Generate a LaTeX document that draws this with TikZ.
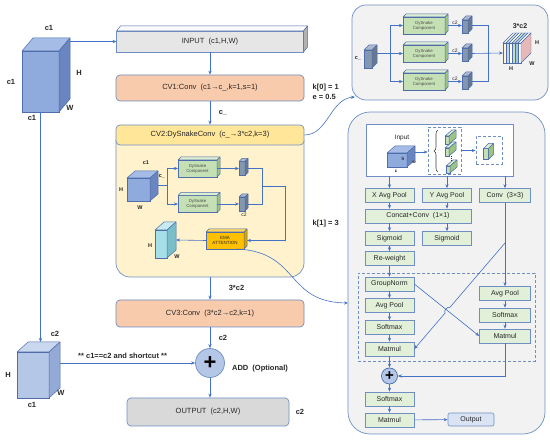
\documentclass[tikz,border=0pt]{standalone}
\usepackage{fontspec}
\setmainfont{Liberation Sans}
\usetikzlibrary{arrows.meta,calc,positioning,decorations.pathreplacing}

\definecolor{linecol}{HTML}{4472C4}
\definecolor{edgecol}{HTML}{6F8FC4}
\definecolor{cubeedge}{HTML}{4F6DAA}
\definecolor{cubefront}{HTML}{8FAADC}
\definecolor{cubeside}{HTML}{6A86C0}
\definecolor{cubetop}{HTML}{A4BCE6}
\definecolor{lowfront}{HTML}{B4C7E7}
\definecolor{lowside}{HTML}{93AAD6}
\definecolor{lowtop}{HTML}{C9D7EF}
\definecolor{mapfront}{HTML}{8497B0}
\definecolor{mapside}{HTML}{66788F}
\definecolor{maptop}{HTML}{ADB9CA}
\definecolor{tealfront}{HTML}{A6DFE8}
\definecolor{tealside}{HTML}{78BFC9}
\definecolor{tealtop}{HTML}{C6ECF1}
\definecolor{snakegreen}{HTML}{C5E0B4}
\definecolor{snakeside}{HTML}{9CC583}
\definecolor{snaketop}{HTML}{DDEED3}
\definecolor{boxgreen}{HTML}{E2F0D9}
\definecolor{emagold}{HTML}{FFC000}
\definecolor{emaside}{HTML}{D9A300}
\definecolor{ematop}{HTML}{FFD966}
\definecolor{convorange}{HTML}{F8CBAD}
\definecolor{headyellow}{HTML}{FFE699}
\definecolor{bodyyellow}{HTML}{FFF2CC}
\definecolor{inputgray}{HTML}{E7E6E6}
\definecolor{outgray}{HTML}{D9D9D9}
\definecolor{panelgray}{HTML}{F2F2F2}
\definecolor{outblue}{HTML}{DAE3F3}
\definecolor{addblue}{HTML}{B4C7E7}
\definecolor{slicecream}{HTML}{FFF2CC}
\definecolor{sliceblue}{HTML}{BDD7EE}
\definecolor{slicegreen}{HTML}{C5E0B4}
\definecolor{slicedeep}{HTML}{9DC3E6}
\definecolor{slicepink}{HTML}{E6B9B8}
\definecolor{txt}{HTML}{262626}

% top and right faces of a box whose front face is node #1
\newcommand{\extrude}[5]{%
  \filldraw[fill=#4, draw=cubeedge, line width=0.5pt, line join=round]
    (#1.north west) -- ++(#2,-#3) -- ($(#1.north east)+(#2,-#3)$) -- (#1.north east) -- cycle;
  \filldraw[fill=#5, draw=cubeedge, line width=0.5pt, line join=round]
    (#1.north east) -- ++(#2,-#3) -- ($(#1.south east)+(#2,-#3)$) -- (#1.south east) -- cycle;
}

\begin{document}
\begin{tikzpicture}[x=1pt, y=-1pt,
    >={Stealth[length=4pt,width=3.2pt]},
    line/.style={draw=linecol, line width=0.6pt, ->},
    wire/.style={draw=linecol, line width=0.6pt},
    mainbox/.style={rectangle, rounded corners=4pt, draw=edgecol, line width=0.7pt, minimum width=188pt, inner sep=0pt, text=txt, font=\fontsize{7.5}{9}\selectfont},
    cubeface/.style={rectangle, draw=cubeedge, line width=0.5pt, inner sep=0pt, outer sep=0pt},
    lbl/.style={inner sep=0.5pt, text=txt, font=\fontsize{7.5}{9}\selectfont\bfseries},
    slbl/.style={inner sep=0.5pt, text=txt, font=\fontsize{5.5}{6}\selectfont\bfseries},
    tlbl/.style={inner sep=0.5pt, text=txt, font=\fontsize{5}{6}\selectfont},
    dsbox/.style={cubeface, fill=snakegreen, minimum width=39pt, minimum height=17pt, align=center, text=black!70, font=\fontsize{4.3}{5}\selectfont},
    ebox/.style={rectangle, draw=edgecol, fill=boxgreen, line width=0.6pt, minimum width=49pt, minimum height=14pt, inner sep=0pt, text=txt, font=\fontsize{7}{8}\selectfont},
    panel/.style={rectangle, draw=edgecol, fill=panelgray, line width=0.7pt, inner sep=0pt},
    selbox/.style={rectangle, draw=edgecol, dash pattern=on 3pt off 2pt, line width=0.6pt, inner sep=0pt}
  ]
\useasboundingbox (0,0) rectangle (550,441);

% frames
\node[panel, rounded corners=14pt, minimum width=196pt, minimum height=95pt] (snakepanel) at (450,52.5) {};
\node[panel, rounded corners=22pt, minimum width=197pt, minimum height=322pt] (emapanel) at (446.5,273) {};
\node[minimum width=188pt, minimum height=137pt, inner sep=0pt, outer sep=0pt] (cv2body) at (210,208.5) {};
\filldraw[fill=bodyyellow, draw=edgecol, line width=0.7pt, rounded corners=14pt]
  (cv2body.north west) -- (cv2body.south west) -- (cv2body.south east) -- (cv2body.north east);

% main column
\node[cubeface, draw=edgecol, fill=inputgray, minimum width=187pt, minimum height=21pt, text=txt, font=\fontsize{7.5}{9}\selectfont] (input) at (210,41.5) {INPUT\ \ (c1,H,W)};
\extrude{input}{4}{5}{white!96!gray}{gray!60}
\node[mainbox, fill=convorange, minimum height=26pt] (cv1) at (210,88) {CV1:Conv\ \ (c1→c\_,k=1,s=1)};
\node[mainbox, fill=headyellow, minimum height=20pt] (cv2) at (210,135) {CV2:DySnakeConv\ \ (c\_→3*c2,k=3)};
\node[mainbox, fill=convorange, minimum height=27pt] (cv3) at (210,313.5) {CV3:Conv\ \ (3*c2→c2,k=1)};
\node[circle, draw=edgecol, fill=addblue, line width=0.7pt, minimum size=29pt, inner sep=0pt, font=\fontsize{22}{22}\selectfont\bfseries] (add) at (210,363) {+};
\node[mainbox, fill=outgray, minimum width=162pt, minimum height=28pt] (output) at (208,412) {OUTPUT\ \ (c2,H,W)};

\draw[line] (input) -- (cv1);
\draw[line] (cv1) -- node[lbl, right=8pt] {c\_} (cv2);
\draw[line] (cv2body) -- node[lbl, right=18pt] {3*c2} (cv3);
\draw[line] (cv3) -- node[lbl, right=8pt] {c2} (add);
\draw[line] (add) -- (add |- output.north);

\node[lbl] (addlbl) at (260,369) {ADD\ \ (Optional)};
\node[lbl] (outc2) at (300,412) {c2};
\node[lbl, anchor=west] (kzero) at (312,88) {k[0] = 1};
\node[lbl, anchor=west] (ezero) at (312,97) {e = 0.5};
\node[lbl, anchor=west] (kone) at (312,224) {k[1] = 3};

% input and shortcut tensors
\node[cubeface, fill=cubefront, minimum width=37pt, minimum height=61pt] (bigcube) at (40.5,81.5) {};
\extrude{bigcube}{11}{13}{cubetop}{cubeside}
\node[lbl] (bigc1top) at (49,28) {c1};
\node[lbl] (bigc1left) at (11,82) {c1};
\node[lbl] (bigH) at (79,73) {H};
\node[lbl] (bigW) at (70,108) {W};
\node[lbl] (bigc1bot) at (32,118) {c1};
\coordinate (bigside) at (70,41.5);
\draw[line] (bigside) -- (input.west);

\node[cubeface, fill=lowfront, minimum width=32pt, minimum height=46pt] (lowcube) at (33,375) {};
\extrude{lowcube}{11}{10}{lowtop}{lowside}
\node[lbl] (lowc2) at (55,334) {c2};
\node[lbl] (lowH) at (8,375) {H};
\node[lbl] (lowW) at (61,393) {W};
\node[lbl] (lowc1) at (32,405) {c1};
\coordinate (lowtopc) at (40.5,342);
\draw[line] (bigcube.south) -- (lowtopc);
\coordinate (lowsidec) at (60,363);
\draw[line] (lowsidec) -- node[lbl, above=4pt, xshift=-5pt] {** c1==c2 and shortcut **} (add);

% inside CV2
\node[cubeface, fill=cubefront, minimum width=23pt, minimum height=23pt] (dcube) at (138.5,189.5) {};
\extrude{dcube}{8}{7}{cubetop}{cubeside}
\node[slbl] (dc1) at (146,163) {c1};
\node[slbl] (dH) at (121,190) {H};
\node[slbl] (dW) at (140,208) {W};
\node[slbl] (dcin) at (162,176) {c\_};
\node[dsbox] (dsa) at (197.5,168.5) {DySnake\\Component};
\extrude{dsa}{3}{3}{snaketop}{snakeside}
\node[dsbox] (dsb) at (197.5,204) {DySnake\\Component};
\extrude{dsb}{3}{3}{snaketop}{snakeside}
\coordinate (dsplit) at (167,185.5);
\draw[wire] ($(dcube.east)+(8,-4)$) -- (dsplit);
\draw[line] (dsplit) |- (dsa.west);
\draw[line] (dsplit) |- (dsb.west);
\node[cubeface, fill=mapfront, minimum width=6pt, minimum height=14pt] (dma) at (242,168.5) {};
\extrude{dma}{3}{3}{maptop}{mapside}
\node[cubeface, fill=mapfront, minimum width=6pt, minimum height=14pt] (dmb) at (242,204) {};
\extrude{dmb}{3}{3}{maptop}{mapside}
\node[tlbl] (dc2) at (244,215) {c2};
\draw[line] (dsa.east) -- (dma.west);
\draw[line] (dsb.east) -- (dmb.west);
\coordinate (dmerge) at (262,186);
\coordinate (dturn) at (285,186);
\draw[wire] ($(dma.east)+(3,0)$) -| (dmerge);
\draw[wire] ($(dmb.east)+(3,0)$) -| (dmerge);
\node[cubeface, fill=emagold, minimum width=38pt, minimum height=17pt, align=center, font=\fontsize{4.5}{5.2}\selectfont, text=txt] (ema) at (225,240.5) {EMA\\ATTENTION};
\extrude{ema}{3}{3}{ematop}{emaside}
\draw[line] (dmerge) -- (dturn) |- ($(ema.east)+(3,0)$);
\node[cubeface, fill=tealfront, minimum width=12pt, minimum height=28pt] (tcube) at (161,244) {};
\extrude{tcube}{9}{8}{tealtop}{tealside}
\node[slbl] (tH) at (150,246) {H};
\node[slbl] (tW) at (177,257) {W};
\draw[line] (ema.west) -- ($(tcube.east)+(9,-4)$);

% DySnake branches
\node[slbl] (cinl) at (358,58) {c\_};
\node[cubeface, fill=mapfront, minimum width=8pt, minimum height=18pt] (cin) at (368,59) {};
\extrude{cin}{5}{5}{maptop}{mapside}
\node[dsbox, minimum width=42pt] (sna) at (424,25.5) {DySnake\\Component};
\extrude{sna}{3}{3}{snaketop}{snakeside}
\node[dsbox, minimum width=42pt] (snb) at (424,53.5) {DySnake\\Component};
\extrude{snb}{3}{3}{snaketop}{snakeside}
\node[dsbox, minimum width=42pt] (snc) at (424,81.5) {DySnake\\Component};
\extrude{snc}{3}{3}{snaketop}{snakeside}
\coordinate (ssplit) at (390,53.5);
\draw[line] ($(cin.east)+(5,-5.5)$) -- (snb.west);
\draw[line] (ssplit) |- (sna.west);
\draw[line] (ssplit) |- (snc.west);
\node[cubeface, fill=mapfront, minimum width=6pt, minimum height=13pt] (sma) at (465,26.5) {};
\extrude{sma}{4}{4}{maptop}{mapside}
\node[cubeface, fill=mapfront, minimum width=6pt, minimum height=13pt] (smb) at (465,54.5) {};
\extrude{smb}{4}{4}{maptop}{mapside}
\node[cubeface, fill=mapfront, minimum width=6pt, minimum height=13pt] (smc) at (465,82.5) {};
\extrude{smc}{4}{4}{maptop}{mapside}
\draw[line] ($(sna.east)+(3,0)$) -- node[tlbl, above=0.5pt] {c2} (sma.west |- sna.east);
\draw[line] ($(snb.east)+(3,0)$) -- node[tlbl, above=0.5pt] {c2} (smb.west |- snb.east);
\draw[line] ($(snc.east)+(3,0)$) -- node[tlbl, above=0.5pt] {c2} (smc.west |- snc.east);
\coordinate (smerge) at (488,53.5);
\draw[wire] ($(sma.east)+(4,-1)$) -| (smerge);
\draw[wire] ($(smc.east)+(4,-1)$) -| (smerge);
\node[minimum width=18pt, minimum height=20pt, inner sep=0pt, outer sep=0pt] (stack) at (512,53) {};
\draw[line] ($(smb.east)+(4,-1)$) -- (stack.west);
\foreach \c [count=\i from 0] in {slicecream,sliceblue,white,slicegreen,slicedeep,white} {
  \filldraw[fill=\c, draw=cubeedge, line width=0.4pt] ($(stack.north west)+(3*\i,0)$) rectangle ++(3,20);
  \filldraw[fill=\c!70!white, draw=cubeedge, line width=0.4pt] ($(stack.north west)+(3*\i,0)$) -- ++(10,-10) -- ++(3,0) -- ++(-10,10) -- cycle;
}
\filldraw[fill=slicepink, draw=cubeedge, line width=0.4pt] (stack.north east) -- ++(10,-10) -- ++(0,20) -- (stack.south east) -- cycle;
\node[lbl, font=\fontsize{7}{8}\selectfont\bfseries] (stackc) at (520,26) {3*c2};
\node[slbl] (stackHr) at (537,43) {H};
\node[slbl] (stackW) at (532,64) {W};
\node[slbl] (stackHb) at (511,69) {H};

% links to the detail panels
\coordinate (snakein) at (355,97);
\draw[line] (cv2.east) .. controls (328,135) and (330,99) .. (snakein);
\coordinate (emain) at (348,303);
\draw[line] ($(ema.south)+(12,0)$) .. controls (300,252) and (285,302) .. (emain);

% EMA attention
\node[rectangle, draw=edgecol, fill=white, line width=0.6pt, minimum width=147pt, minimum height=52pt, inner sep=0pt] (inbox) at (439.5,150) {};
\node[text=txt, font=\fontsize{6.5}{7}\selectfont, inner sep=0pt] (inlbl) at (402,138) {Input};
\node[cubeface, fill=cubefront, minimum width=20pt, minimum height=14pt] (incube) at (397,160) {};
\extrude{incube}{8}{7}{cubetop}{cubeside}
\node[tlbl, font=\fontsize{4.5}{5}\selectfont\bfseries] (inh) at (403,159) {h};
\node[tlbl, font=\fontsize{4.5}{5}\selectfont\bfseries] (inw) at (414,162) {w};
\node[tlbl, font=\fontsize{4.5}{5}\selectfont\bfseries] (inc) at (396,171) {c};
\node[selbox, minimum width=33pt, minimum height=47pt] (groups) at (444.5,150.5) {};
\draw[decorate, decoration={brace, amplitude=4pt}, draw=black!75, line width=0.6pt] (438,172) -- (438,130);
\node[cubeface, fill=snakegreen, minimum width=4pt, minimum height=8pt] (sla) at (447,140) {};
\extrude{sla}{7}{6}{snaketop}{snakeside}
\node[cubeface, fill=snakegreen, minimum width=4pt, minimum height=8pt] (slb) at (447,152) {};
\extrude{slb}{7}{6}{snaketop}{snakeside}
\node[cubeface, fill=snakegreen, minimum width=4pt, minimum height=7pt] (slc) at (448,169.5) {};
\extrude{slc}{7}{6}{snaketop}{snakeside}
\draw[red!75!black, line width=0.8pt, dash pattern=on 1pt off 1pt] (451,156) -- (451,162);
\node[selbox, minimum width=26pt, minimum height=28pt] (pick) at (489,150.5) {};
\node[cubeface, fill=snakegreen, minimum width=5pt, minimum height=11pt] (slp) at (486,154) {};
\extrude{slp}{5}{5}{snaketop}{snakeside}
\coordinate (inside) at (415,152);
\draw[line] (inside) -- (groups.west |- inside);
\draw[line] (groups.east) -- (pick.west);

\node[ebox] (xpool) at (389.5,195.5) {X Avg Pool};
\node[ebox] (ypool) at (447,195.5) {Y Avg Pool};
\node[ebox, minimum width=51pt] (conv3) at (505,195.5) {Conv\ \ (3×3)};
\node[ebox, minimum width=106pt] (concat) at (418,216) {Concat+Conv\ \ (1×1)};
\node[ebox] (siga) at (389.5,238.5) {Sigmoid};
\node[ebox] (sigb) at (447,238.5) {Sigmoid};
\node[ebox] (reweight) at (389.5,258.5) {Re-weight};
\node[selbox, minimum width=177pt, minimum height=88pt] (grp) at (446.5,317) {};
\node[ebox] (gn) at (389.5,284) {GroupNorm};
\node[ebox] (apl) at (389.5,305.5) {Avg Pool};
\node[ebox] (sml) at (389.5,327.5) {Softmax};
\node[ebox] (mml) at (389.5,349) {Matmul};
\node[ebox, minimum width=51pt] (apr) at (505,293.5) {Avg Pool};
\node[ebox, minimum width=51pt] (smr) at (505,315) {Softmax};
\node[ebox, minimum width=51pt] (mmr) at (505,336) {Matmul};
\node[circle, draw=cubeedge, fill=addblue, line width=0.7pt, minimum size=16pt, inner sep=0pt, font=\fontsize{15}{15}\selectfont\bfseries] (plus) at (389.5,376) {+};
\node[ebox] (smb) at (389.5,399) {Softmax};
\node[ebox] (mmb) at (389.5,420) {Matmul};
\node[ebox, fill=outblue, rounded corners=2pt, minimum width=46pt, minimum height=13pt] (outn) at (471,419.5) {Output};

\foreach \n in {xpool,ypool,conv3} \draw[line] (\n.north |- inbox.south) -- (\n.north);
\draw[line] (xpool) -- (xpool |- concat.north);
\draw[line] (ypool) -- (ypool |- concat.north);
\draw[line] (siga |- concat.south) -- (siga);
\draw[line] (sigb |- concat.south) -- (sigb);
\draw[line] (siga) -- (reweight);
\draw[line] (reweight) -- (gn);
\draw[line] (gn) -- (apl);
\draw[line] (apl) -- (sml);
\draw[line] (sml) -- (mml);
\draw[line] (conv3) -- (apr);
\draw[line] (apr) -- (smr);
\draw[line] (smr) -- (mmr);
\draw[line] (gn.east) -- (mmr.west);
\coordinate (tap) at (505,243);
\draw[line] (tap) -- ($(tap)!0.61!(mml.east)$) to[bend right=90] ($(tap)!0.66!(mml.east)$) -- (mml.east);
\draw[line] (mml) -- (plus);
\draw[line] (mmr) |- (plus);
\draw[line] (plus) -- (smb);
\draw[line] (smb) -- (mmb);
\draw[line] (mmb) -- (outn);
\end{tikzpicture}
\end{document}
